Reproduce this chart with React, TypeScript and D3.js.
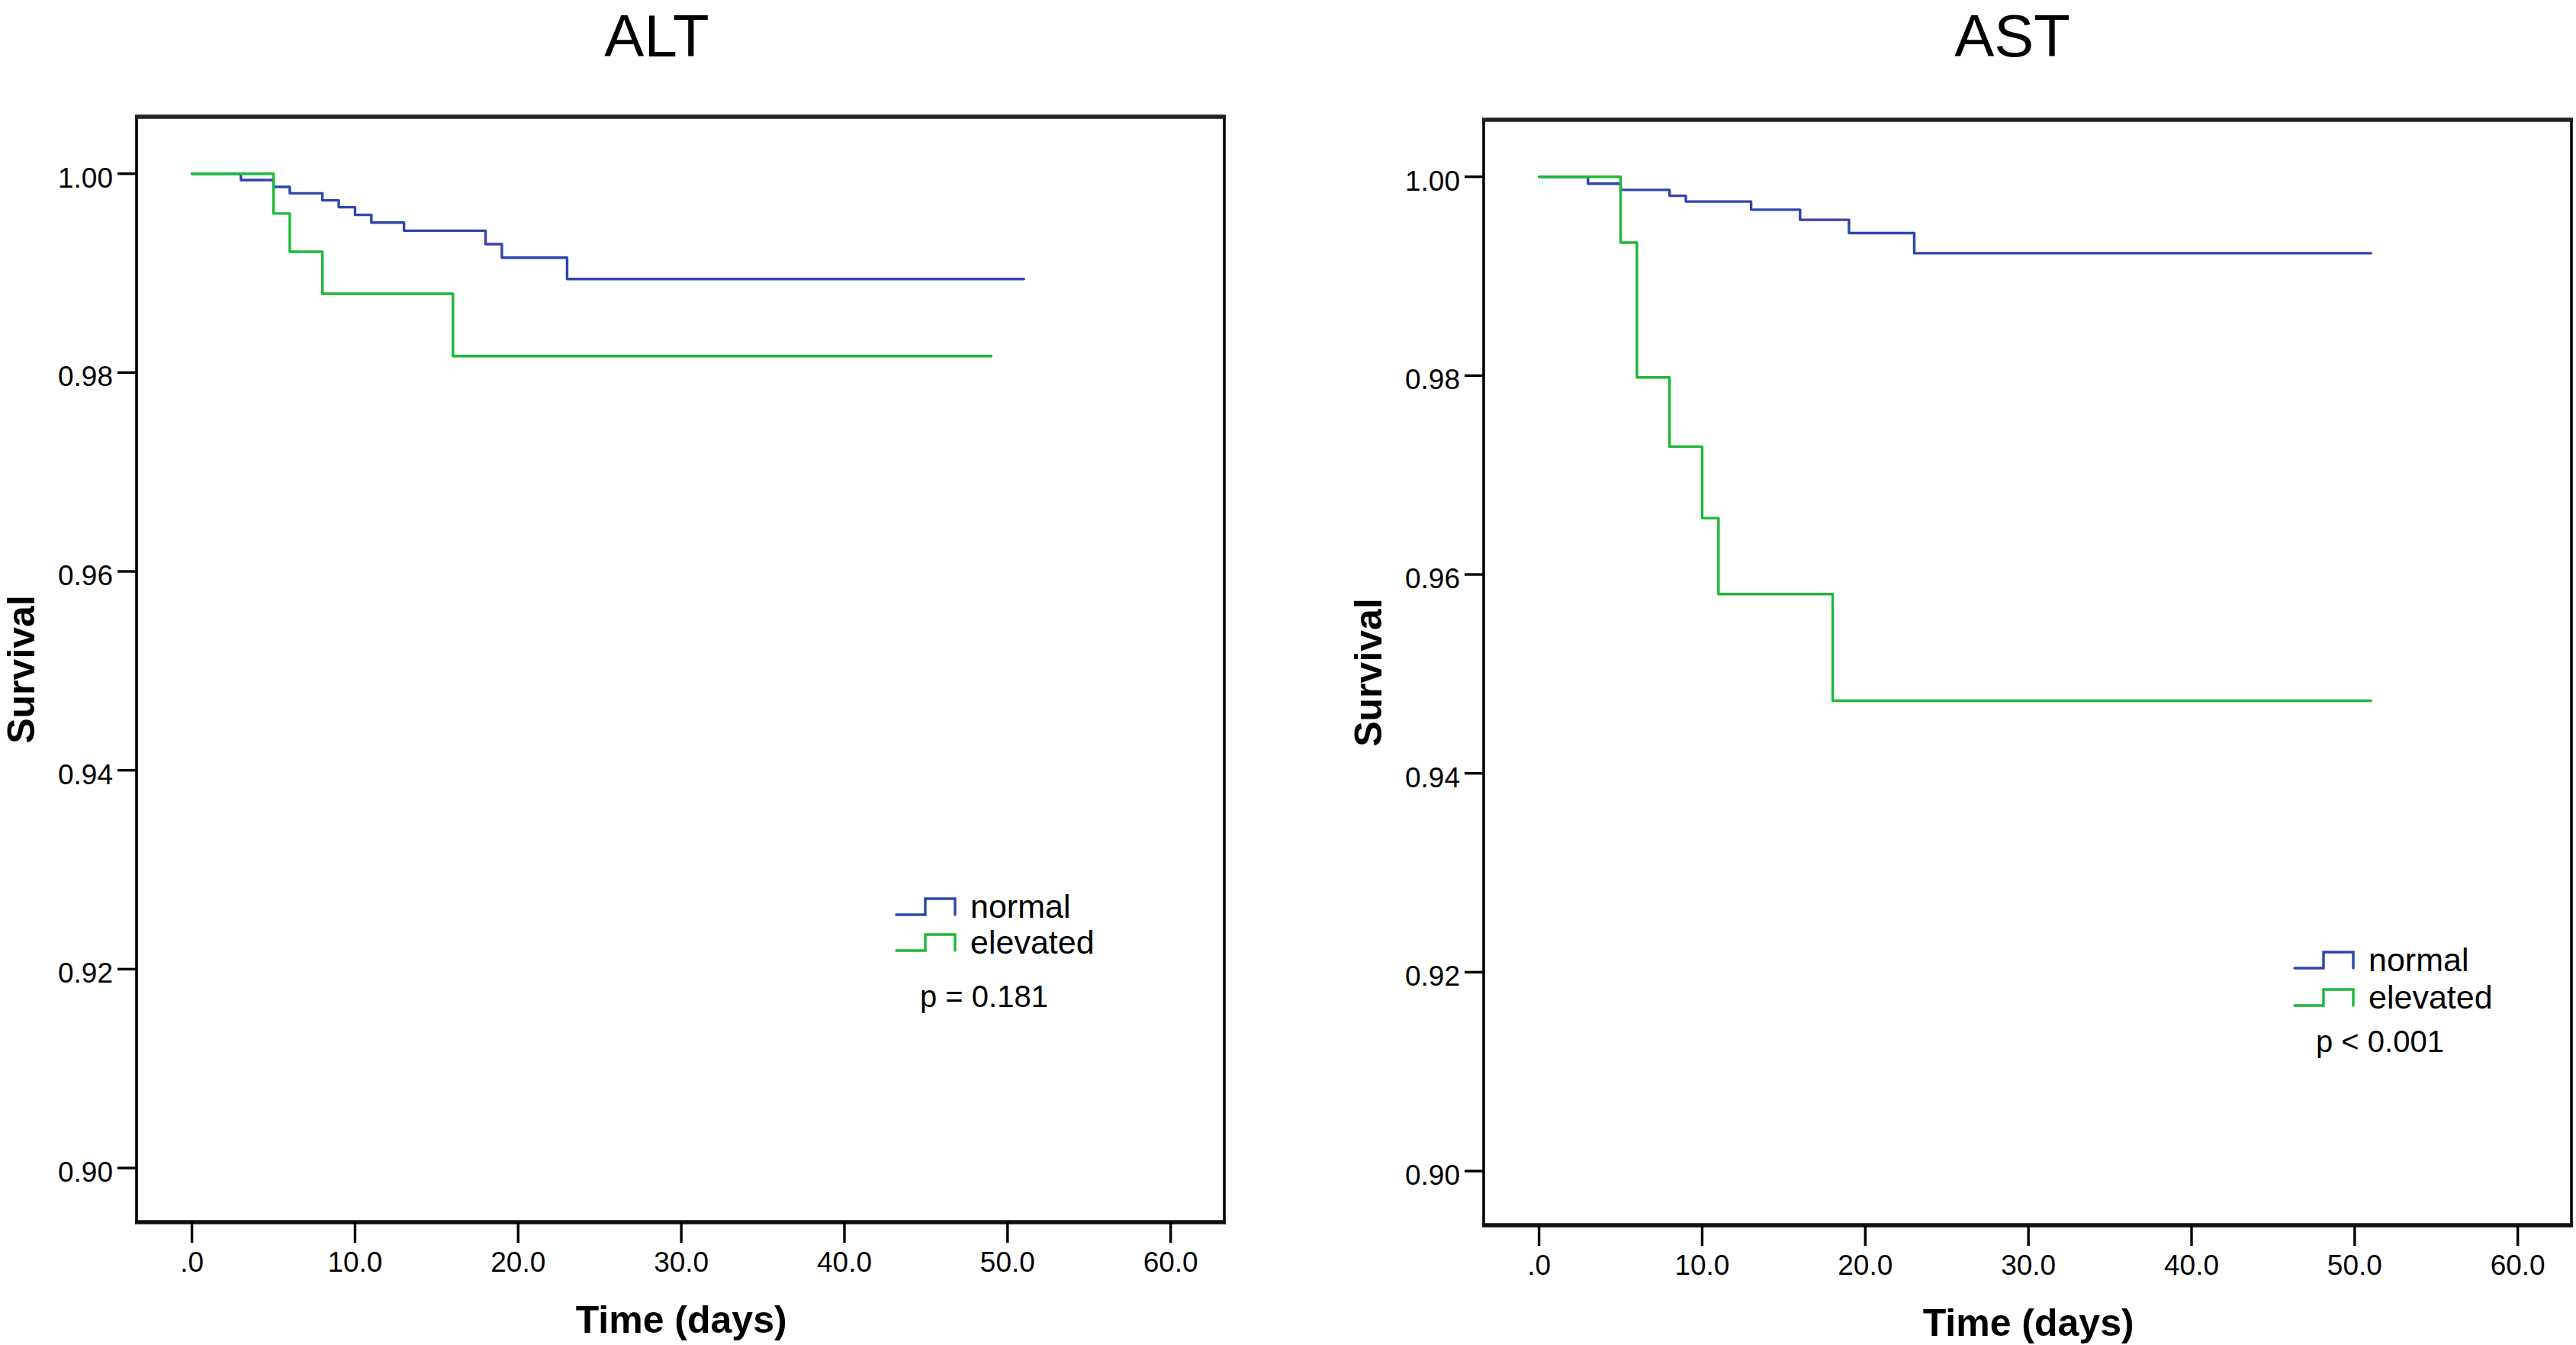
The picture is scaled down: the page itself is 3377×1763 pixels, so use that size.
import React from "react";
import * as d3 from "d3";

// ---------- data ----------
const panelTitles = ["ALT", "AST"];
const groupNames = ["normal", "elevated"];
const pValues = ["p = 0.181", "p < 0.001"];

const altNormalTimes = [0, 3, 5, 6, 8, 9, 10, 11, 13, 18, 19, 23];
const altNormalSurv = [1, 0.99936, 0.99867, 0.99803, 0.99732, 0.99663, 0.99586, 0.99509, 0.99427, 0.99292, 0.99156, 0.98941];
const altNormalEnd = 51;

const altElevTimes = [0, 5, 6, 8, 16];
const altElevSurv = [1, 0.996, 0.99215, 0.98793, 0.98166];
const altElevEnd = 49;

const astNormalTimes = [0, 3, 5, 8, 9, 13, 16, 19, 23];
const astNormalSurv = [1, 0.99931, 0.99868, 0.99809, 0.99751, 0.99669, 0.99567, 0.99434, 0.99231];
const astNormalEnd = 51;

const astElevTimes = [0, 5, 6, 8, 10, 11, 18];
const astElevSurv = [1, 0.99338, 0.97982, 0.97286, 0.96567, 0.95803, 0.9473];
const astElevEnd = 51;

const xTickValues = [0, 10, 20, 30, 40, 50, 60];
const yTickValues = [0.9, 0.92, 0.94, 0.96, 0.98, 1.0];

// ---------- style / layout ----------
const W = 3377;
const H = 1763;
const FONT = "'Liberation Sans', Arial, sans-serif";
const COLORS = ["#2f45ae", "#1db83a"];

type Panel = {
  dx: number;
  dy: number;
  titleX: number;
  legend: { x0: number; y0: number; rowGap: number; pdx: number; pdy: number };
  curves: { times: number[]; surv: number[]; end: number }[];
};

const panels: Panel[] = [
  {
    dx: 0,
    dy: 0,
    titleX: 861,
    legend: { x0: 1175, y0: 1199, rowGap: 47, pdx: 31, pdy: 121 },
    curves: [
      { times: altNormalTimes, surv: altNormalSurv, end: altNormalEnd },
      { times: altElevTimes, surv: altElevSurv, end: altElevEnd },
    ],
  },
  {
    dx: 1766,
    dy: 4,
    titleX: 872,
    legend: { x0: 1242, y0: 1265, rowGap: 49, pdx: 28, pdy: 110 },
    curves: [
      { times: astNormalTimes, surv: astNormalSurv, end: astNormalEnd },
      { times: astElevTimes, surv: astElevSurv, end: astElevEnd },
    ],
  },
];

// frame and scale geometry for the left panel (right one is offset)
const frame = { left: 179, right: 1605, top: 153, bottom: 1602 };
const xRange = [251.6, 1534.7];
const yRange = [1531, 227.7];

const fmtX = (v: number) => (v === 0 ? ".0" : d3.format(".1f")(v));
const fmtY = d3.format(".2f");

function PanelView({ p, idx }: { p: Panel; idx: number }) {
  const x = d3.scaleLinear().domain([0, 60]).range(xRange);
  const y = d3.scaleLinear().domain([0.9, 1.0]).range(yRange);
  const line = d3
    .line<[number, number]>()
    .x((d) => x(d[0]))
    .y((d) => y(d[1]))
    .curve(d3.curveStepAfter);

  const L = p.legend;
  const symbol = (yl: number) => {
    const yh = yl - 21;
    const x0 = L.x0;
    const xm = L.x0 + 38;
    const x1 = L.x0 + 77;
    return `M${x0},${yl}H${xm}V${yh}H${x1}V${yl}`;
  };

  return (
    <g transform={`translate(${p.dx},${p.dy})`}>
      {/* title */}
      <text x={p.titleX} y={74 - p.dy} textAnchor="middle" fontSize={78} fontFamily={FONT} fill="#000">
        {panelTitles[idx]}
      </text>

      {/* curves */}
      {p.curves.map((c, i) => {
        const pts: [number, number][] = c.times.map((t, k) => [t, c.surv[k]] as [number, number]);
        pts.push([c.end, c.surv[c.surv.length - 1]]);
        return (
          <path
            key={i}
            d={line(pts) || ""}
            fill="none"
            stroke={COLORS[i]}
            strokeWidth={3.4}
            strokeLinejoin="round"
            strokeLinecap="round"
          />
        );
      })}

      {/* frame */}
      <line x1={frame.left} x2={frame.left} y1={frame.top} y2={frame.bottom} stroke="#000" strokeWidth={3.6} />
      <line x1={frame.right} x2={frame.right} y1={frame.top} y2={frame.bottom} stroke="#000" strokeWidth={3.6} />
      <line x1={frame.left - 2} x2={frame.right + 2} y1={frame.top} y2={frame.top} stroke="#222" strokeWidth={5.5} />
      <line x1={frame.left - 2} x2={frame.right + 2} y1={frame.bottom} y2={frame.bottom} stroke="#111" strokeWidth={5.5} />

      {/* y ticks */}
      {yTickValues.map((v) => (
        <g key={v}>
          <line x1={frame.left - 25} x2={frame.left} y1={y(v)} y2={y(v)} stroke="#000" strokeWidth={3.4} />
          <text
            x={frame.left - 31}
            y={y(v) + 18}
            textAnchor="end"
            fontSize={37}
            fontFamily={FONT}
            fill="#000"
          >
            {fmtY(v)}
          </text>
        </g>
      ))}

      {/* x ticks */}
      {xTickValues.map((v) => (
        <g key={v}>
          <line x1={x(v)} x2={x(v)} y1={frame.bottom} y2={frame.bottom + 27} stroke="#000" strokeWidth={3.4} />
          <text x={x(v)} y={frame.bottom + 65} textAnchor="middle" fontSize={37} fontFamily={FONT} fill="#000">
            {fmtX(v)}
          </text>
        </g>
      ))}

      {/* axis titles */}
      <text
        x={(xRange[0] + xRange[1]) / 2}
        y={1747}
        textAnchor="middle"
        fontSize={50}
        fontWeight="bold"
        fontFamily={FONT}
        fill="#000"
      >
        Time (days)
      </text>
      <text
        transform={`translate(45,${(frame.top + frame.bottom) / 2}) rotate(-90)`}
        textAnchor="middle"
        fontSize={50}
        fontWeight="bold"
        fontFamily={FONT}
        fill="#000"
      >
        Survival
      </text>

      {/* legend */}
      {groupNames.map((g, i) => {
        const yl = L.y0 + i * L.rowGap;
        return (
          <g key={g}>
            <path d={symbol(yl)} fill="none" stroke={COLORS[i]} strokeWidth={3.4} strokeLinecap="round" />
            <text x={L.x0 + 97} y={yl + 4} fontSize={43} fontFamily={FONT} fill="#000">
              {g}
            </text>
          </g>
        );
      })}
      <text x={L.x0 + L.pdx} y={L.y0 + L.pdy} fontSize={40} fontFamily={FONT} fill="#000">
        {pValues[idx]}
      </text>
    </g>
  );
}

export default function App() {
  return (
    <svg
      width={W}
      height={H}
      viewBox={`0 0 ${W} ${H}`}
      style={{ position: "absolute", left: 0, top: 0, background: "#fff" }}
    >
      <rect x={0} y={0} width={W} height={H} fill="#fff" />
      {panels.map((p, i) => (
        <PanelView key={i} p={p} idx={i} />
      ))}
    </svg>
  );
}
